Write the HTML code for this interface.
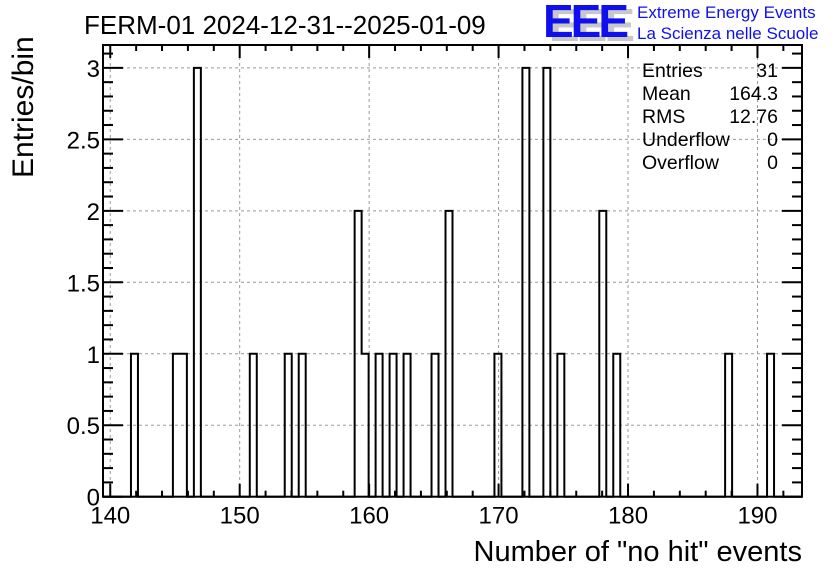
<!DOCTYPE html>
<html><head><meta charset="utf-8"><style>
body{margin:0;background:#fff;}
svg{display:block;font-family:"Liberation Sans",sans-serif;}
</style></head><body>
<svg id="chart" width="836" height="572" viewBox="0 0 836 572">
<rect width="836" height="572" fill="#fff"/>
<text x="84" y="34" font-size="26" fill="#000">FERM-01 2024-12-31--2025-01-09</text>
<g>
<text x="549" y="41" font-size="46" font-weight="bold" fill="#c8c8c8" letter-spacing="-3">EEE</text>
<text x="543" y="37" font-size="46" font-weight="bold" fill="#1010ee" letter-spacing="-3">EEE</text>
<text x="637" y="18" font-size="17" fill="#1010ee">Extreme Energy Events</text>
<text x="637" y="39" font-size="17" fill="#1010ee">La Scienza nelle Scuole</text>
</g>
<g id="grid"></g>
<g id="hist"></g>
<g id="axes"></g>
<g font-size="19.5" fill="#000">
<text x="642" y="77">Entries</text><text x="778" y="77" text-anchor="end">31</text>
<text x="642" y="100">Mean</text><text x="778" y="100" text-anchor="end">164.3</text>
<text x="642" y="123">RMS</text><text x="778" y="123" text-anchor="end">12.76</text>
<text x="642" y="146">Underflow</text><text x="778" y="146" text-anchor="end">0</text>
<text x="642" y="169">Overflow</text><text x="778" y="169" text-anchor="end">0</text>
</g>
<text x="802" y="561" font-size="29" text-anchor="end">Number of "no hit" events</text>
<text transform="translate(33,178) rotate(-90)" font-size="30">Entries/bin</text>
</svg>
<script>
const binIndex = [4,10,11,13,21,26,28,36,37,39,41,43,47,49,56,60,63,65,71,73,89,95];
const binCounts = [1,1,1,3,1,1,1,2,1,1,1,1,1,2,1,3,3,1,2,1,1,1];
const xTicks = [140,150,160,170,180,190];
const yTicks = [0,0.5,1,1.5,2,2.5,3];
const xMin=139.44, binW=0.54, nBins=100, xMax=xMin+nBins*binW;
const yMax=3.16;
const L=103,R=802,T=45,B=496.7;
const sx=v=>L+(v-xMin)/(xMax-xMin)*(R-L);
const sy=v=>B-v/yMax*(B-T);
const NS="http://www.w3.org/2000/svg";
function mk(tag,attrs,parent){const e=document.createElementNS(NS,tag);for(const k in attrs)e.setAttribute(k,attrs[k]);parent.appendChild(e);return e;}
const grid=document.getElementById('grid'),hist=document.getElementById('hist'),axes=document.getElementById('axes');
xTicks.forEach(v=>{const l=mk('line',{x1:sx(v),x2:sx(v),y1:T,y2:B,stroke:'#999','stroke-dasharray':'3,3','stroke-width':1},grid);

});
yTicks.forEach(v=>{const l=mk('line',{x1:L,x2:R,y1:sy(v),y2:sy(v),stroke:'#999','stroke-dasharray':'3,3','stroke-width':1},grid);

});
const counts=new Array(nBins).fill(0);
binIndex.forEach((b,i)=>counts[b]=binCounts[i]);
let d='M'+sx(xMin)+','+sy(0);
for(let i=0;i<nBins;i++){const x0=sx(xMin+i*binW),x1=sx(xMin+(i+1)*binW),y=sy(counts[i]);d+=' L'+x0+','+y+' L'+x1+','+y;}
d+=' L'+sx(xMax)+','+sy(0);
const p=mk('path',{d:d,fill:'none',stroke:'#000','stroke-width':2},hist);


const f=mk('rect',{x:L,y:T,width:R-L,height:B-T,fill:'none',stroke:'#000','stroke-width':2},axes);


for(let v=140;v<=xMax;v+=2){const maj=(v%10===0),len=maj?13:6;
mk('line',{x1:sx(v),x2:sx(v),y1:B,y2:B-len,stroke:'#000','stroke-width':2},axes);
mk('line',{x1:sx(v),x2:sx(v),y1:T,y2:T+len,stroke:'#000','stroke-width':2},axes);}
xTicks.forEach(v=>{const t=mk('text',{x:sx(v),y:B+27,'font-size':24,'text-anchor':'middle'},axes);t.textContent=v;

});
for(let i=0;i<=31;i++){const v=i*0.1;const maj=(i%5===0),len=maj?20:10;
mk('line',{x1:L,x2:L+len,y1:sy(v),y2:sy(v),stroke:'#000','stroke-width':2},axes);
mk('line',{x1:R,x2:R-len,y1:sy(v),y2:sy(v),stroke:'#000','stroke-width':2},axes);}
yTicks.forEach(v=>{const t=mk('text',{x:L-3,y:sy(v)+9,'font-size':24,'text-anchor':'end'},axes);t.textContent=v;

});
</script>
</body></html>
